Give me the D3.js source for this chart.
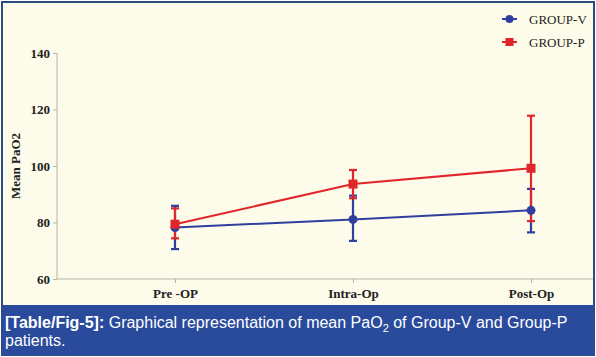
<!DOCTYPE html>
<html><head><meta charset="utf-8">
<script src="https://cdn.jsdelivr.net/npm/d3@7"></script>
<style>html,body{margin:0;padding:0;background:#fff;}svg{display:block;}</style>
</head><body>
<script>
const categories = ["Pre -OP", "Intra-Op", "Post-Op"];
const seriesNames = ["GROUP-V", "GROUP-P"];
const groupVMean = [78.2, 81.1, 84.3];
const groupVLow  = [70.6, 73.5, 76.5];
const groupVHigh = [85.9, 89.5, 91.9];
const groupPMean = [79.4, 93.6, 99.2];
const groupPLow  = [74.4, 88.6, 80.5];
const groupPHigh = [85.0, 98.6, 117.8];
const yTicks = [60, 80, 100, 120, 140];

const W = 596, H = 357;
const svg = d3.select("body").append("svg").attr("width", W).attr("height", H);

// background & frame
svg.append("rect").attr("x",0).attr("y",0).attr("width",W).attr("height",H).attr("fill","#ffffff");
svg.append("rect").attr("x",2).attr("y",2).attr("width",W-4).attr("height",H-4)
  .attr("fill","#fdfbe9").attr("stroke","#2b4a7f").attr("stroke-width",2);

const y = d3.scaleLinear().domain([60,140]).range([279,53]);
const x = d3.scalePoint().domain(categories).range([175,531]);

const axisColor = "#b5b5aa";
// y axis
const yAx = svg.append("g").attr("transform","translate(57,0)")
  .call(d3.axisLeft(y).tickValues(yTicks).tickSize(4).tickPadding(3));
yAx.select(".domain").remove();
yAx.selectAll(".tick line").attr("stroke",axisColor);
yAx.selectAll(".tick text").attr("fill","#222").attr("font-family","Liberation Serif")
  .attr("font-weight","bold").attr("font-size",13);
svg.append("line").attr("x1",57).attr("x2",57).attr("y1",y(140)).attr("y2",y(60))
  .attr("stroke",axisColor).attr("stroke-width",1);

// x axis
const xAx = svg.append("g").attr("transform","translate(0,279)")
  .call(d3.axisBottom(x).tickSize(4).tickPadding(6));
xAx.select(".domain").remove();
xAx.selectAll(".tick line").attr("stroke",axisColor);
xAx.selectAll(".tick text").attr("fill","#222").attr("font-family","Liberation Serif")
  .attr("font-weight","bold").attr("font-size",13);
svg.append("line").attr("x1",57).attr("x2",593).attr("y1",279).attr("y2",279)
  .attr("stroke",axisColor).attr("stroke-width",1);

// y label
svg.append("text").attr("transform","translate(20,166) rotate(-90)")
  .attr("text-anchor","middle").attr("font-family","Liberation Serif").attr("font-weight","bold")
  .attr("font-size",13).attr("fill","#222").text("Mean PaO2");

const series = [
  {name: seriesNames[0], color:"#2f3f9e", mean:groupVMean, low:groupVLow, high:groupVHigh, shape:"circle"},
  {name: seriesNames[1], color:"#e0262a", mean:groupPMean, low:groupPLow, high:groupPHigh, shape:"square"}
];

const line = d3.line().x((d,i)=>x(categories[i])).y(d=>y(d));

series.forEach(s=>{
  const g = svg.append("g");
  categories.forEach((c,i)=>{
    const cx = x(c);
    g.append("line").attr("x1",cx).attr("x2",cx).attr("y1",y(s.low[i])).attr("y2",y(s.high[i]))
      .attr("stroke",s.color).attr("stroke-width",2.2);
    [s.low[i], s.high[i]].forEach(v=>{
      g.append("line").attr("x1",cx-4).attr("x2",cx+4).attr("y1",y(v)).attr("y2",y(v))
        .attr("stroke",s.color).attr("stroke-width",2.2);
    });
  });
});
series.forEach(s=>{
  svg.append("path").datum(s.mean).attr("d",line).attr("fill","none")
    .attr("stroke",s.color).attr("stroke-width",2);
  categories.forEach((c,i)=>{
    if (s.shape==="circle") {
      svg.append("circle").attr("cx",x(c)).attr("cy",y(s.mean[i])).attr("r",4.5).attr("fill",s.color);
    } else {
      svg.append("rect").attr("x",x(c)-4.5).attr("y",y(s.mean[i])-4.5).attr("width",9).attr("height",9).attr("fill",s.color);
    }
  });
});

// legend
series.forEach((s,i)=>{
  const ly = 19 + i*23;
  svg.append("line").attr("x1",502).attr("x2",517).attr("y1",ly).attr("y2",ly)
    .attr("stroke",s.color).attr("stroke-width",2);
  if (s.shape==="circle") svg.append("circle").attr("cx",509.5).attr("cy",ly).attr("r",4).attr("fill",s.color);
  else svg.append("rect").attr("x",505.5).attr("y",ly-4).attr("width",8).attr("height",8).attr("fill",s.color);
  svg.append("text").attr("x",529).attr("y",ly+4.5).attr("font-family","Liberation Serif")
    .attr("font-size",13).attr("fill","#222").text(s.name);
});

// caption band
svg.append("rect").attr("x",2).attr("y",305).attr("width",W-4).attr("height",50).attr("fill","#2a4b9c");
const cap = svg.append("text").attr("x",5).attr("y",328).attr("font-family","Liberation Sans")
  .attr("font-size",16).attr("fill","#fff");
cap.append("tspan").attr("font-weight","bold").text("[Table/Fig-5]:");
cap.append("tspan").text(" Graphical representation of mean PaO");
cap.append("tspan").attr("font-size",11).attr("dy",4).text("2");
cap.append("tspan").attr("dy",-4).text(" of Group-V and Group-P");
svg.append("text").attr("x",5).attr("y",346).attr("font-family","Liberation Sans")
  .attr("font-size",16).attr("fill","#fff").text("patients.");
</script>
</body></html>
